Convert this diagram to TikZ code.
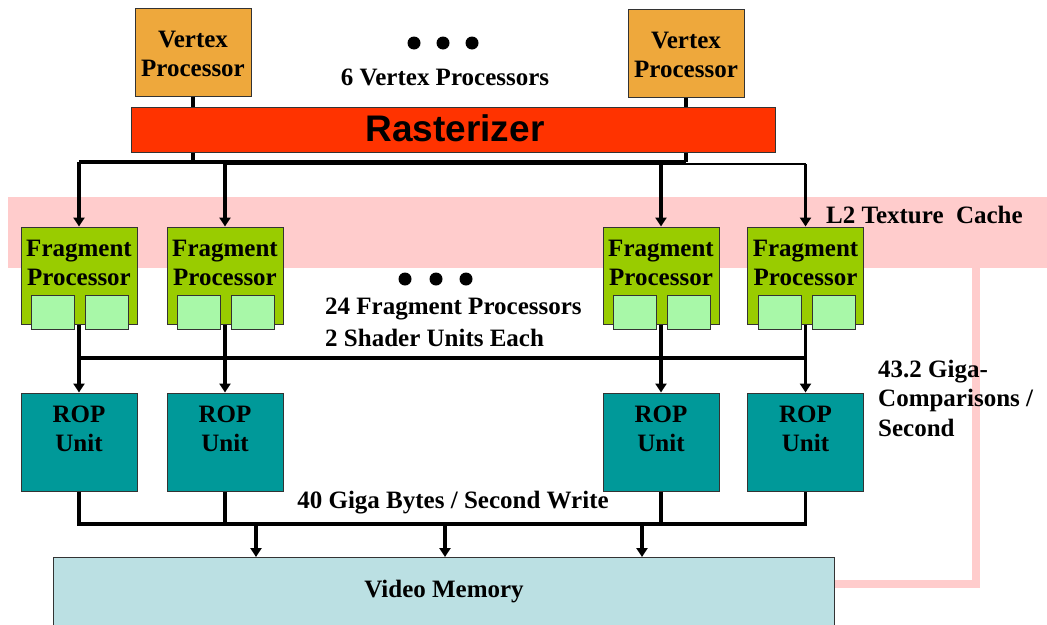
\documentclass[tikz,border=0pt]{standalone}
\usepackage{fontspec}
\setmainfont{Liberation Serif}
\setsansfont{Liberation Sans}
\usetikzlibrary{arrows.meta}
\definecolor{vcol}{HTML}{EEA83C}
\definecolor{rcol}{HTML}{FF3300}
\definecolor{fcol}{HTML}{99CC00}
\definecolor{scol}{HTML}{A8F8A8}
\definecolor{ropcol}{HTML}{009999}
\definecolor{vmcol}{HTML}{BBE0E3}
\definecolor{pinkc}{HTML}{FFCCCC}
\begin{document}
\begin{tikzpicture}[x=1pt,y=-1pt,
  box/.style={draw=black!80, line width=1pt, inner sep=0pt},
  vproc/.style={box, fill=vcol, minimum width=116pt, minimum height=88pt},
  fproc/.style={box, fill=fcol, minimum width=116pt, minimum height=97pt},
  shader/.style={box, fill=scol, minimum width=43pt, minimum height=34pt},
  rop/.style={box, fill=ropcol, minimum width=116pt, minimum height=98pt},
  lbl/.style={font=\fontsize{25}{29.5}\selectfont\bfseries, align=center, inner sep=0pt},
  wire/.style={line width=3.2pt},
  thinwire/.style={line width=2.6pt},
  arr/.style={line width=3.2pt, -{Triangle[width=11pt,length=9pt]}},
  dot/.style={fill=black}
]
\useasboundingbox (0,0) rectangle (1047,624);

% L2 texture cache band
\node[fill=pinkc, inner sep=0pt, minimum width=1039pt, minimum height=71pt, anchor=north west] (l2) at (8,197) {};
\node[lbl, anchor=west] (l2txt) at (826,215) {L2 Texture~~Cache};
\coordinate (pk1) at (976,262);
\coordinate (pk2) at (976,584);

% Video memory
\node[box, fill=vmcol, minimum width=781pt, minimum height=100pt, anchor=north west] (vm) at (53,557) {};
\node[lbl] (vmtxt) at (444,592) {Video Memory};
\draw[pinkc, line width=8pt] (pk1) -- (pk2) -- (pk2 -| vm.east);

% Vertex processors
\node[vproc] (v1) at (193,52) {};
\node[lbl] at (193,54) {Vertex\\Processor};
\node[vproc] (v2) at (686,53) {};
\node[lbl] at (686,55) {Vertex\\Processor};
\fill[dot] (414,43) circle (6.5) (443,43) circle (6.5) (472,43) circle (6.5);
\node[lbl] (vtxt) at (445,77) {6 Vertex Processors};

% Rasterizer
\node[box, fill=rcol, minimum width=644pt, minimum height=45pt] (ras) at (453,129.5) {};
\node[font=\fontsize{37}{42}\selectfont\sffamily\bfseries, inner sep=0pt] (rastxt) at (455,128) {Rasterizer};

\draw[wire] (v1.south) -- (v1.south |- ras.north);
\draw[wire] (v2.south) -- (v2.south |- ras.north);

% Fragment processors
\node[fproc] (f1) at (79,275.5) {};
\node[fproc] (f2) at (225,275.5) {};
\node[fproc] (f3) at (661,275.5) {};
\node[fproc] (f4) at (805.5,275.5) {};
\foreach \f in {f1,f2,f3,f4}{
  \node[lbl] at (\f.center |- 0,263) {Fragment\\Processor};
  \node[shader] (\f a) at ([xshift=-26pt]\f.south |- 0,312) {};
  \node[shader] (\f b) at ([xshift=28pt]\f.south |- 0,312) {};
}
\fill[dot] (405,279) circle (6.5) (436,279) circle (6.5) (466,279) circle (6.5);
\node[lbl, anchor=west] (ftxt1) at (325,309) {24 Fragment Processors};
\node[lbl, anchor=west] (ftxt2) at (325,338) {2 Shader Units Each};

% rasterizer to fragment buses
\coordinate (b1) at (79,162);
\coordinate (b2) at (225,164);
\coordinate (b3) at (661,164);
\coordinate (b4) at (805.5,164);
\draw[wire] (ras.south -| v1.south) -- (v1.south |- b1);
\draw[wire] (ras.south -| v2.south) -- (v2.south |- b1);
\draw[wire] (b1) -- (v2.south |- b1);
\draw[thinwire] (b2) -- (b4);
\draw[arr] (b1) -- (f1.north);
\draw[arr] (b2) -- (f2.north);
\draw[arr] (b3) -- (f3.north);
\draw[arr] (b4) -- (f4.north);

% ROP units
\node[rop] (r1) at (79,442) {};
\node[rop] (r2) at (225,442) {};
\node[rop] (r3) at (661,442) {};
\node[rop] (r4) at (805.5,442) {};
\foreach \r in {r1,r2,r3,r4}{
  \node[lbl] at (\r.center |- 0,429) {ROP\\Unit};
}

% fragment to ROP
\coordinate (c1) at (79,358);
\draw[wire] (c1) -- (c1 -| f4.south);
\draw[arr] (f1.south) -- (r1.north);
\draw[arr] (f2.south) -- (r2.north);
\draw[arr] (f3.south) -- (r3.north);
\draw[arr] (f4.south) -- (r4.north);
\node[lbl, anchor=west, align=left] (cmp) at (878,398) {43.2 Giga-\\Comparisons /\\Second};

% ROP to memory
\coordinate (m1) at (79,524);
\draw[wire] (r1.south) -- (m1) -- (m1 -| r4.south) -- (r4.south);
\draw[wire] (r2.south) -- (m1 -| r2.south);
\draw[wire] (r3.south) -- (m1 -| r3.south);
\coordinate (a1) at (256,524);
\coordinate (a2) at (445,524);
\coordinate (a3) at (642,524);
\draw[arr] (a1) -- (a1 |- vm.north);
\draw[arr] (a2) -- (a2 |- vm.north);
\draw[arr] (a3) -- (a3 |- vm.north);
\node[lbl] (wtxt) at (453,503) {40 Giga Bytes / Second Write};
\end{tikzpicture}
\end{document}
